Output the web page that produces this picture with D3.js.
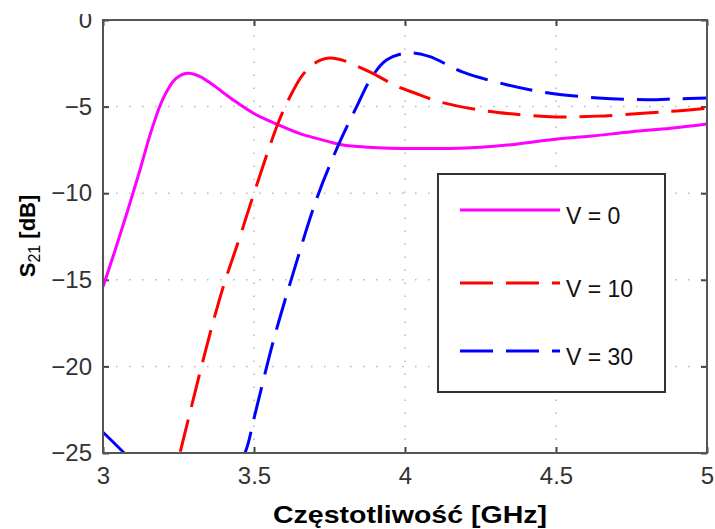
<!DOCTYPE html>
<html>
<head>
<meta charset="utf-8">
<script src="https://cdn.jsdelivr.net/npm/d3@7"></script>
<style>
  html, body { margin: 0; padding: 0; background: #fff; }
  svg { display: block; font-family: Arial, "Liberation Sans", sans-serif; }
</style>
</head>
<body>
<svg id="chart" width="715" height="529"></svg>
<script>
// ---- data ----
const freqV0 = [3.0, 3.04, 3.08, 3.12, 3.16, 3.20, 3.24, 3.28, 3.32, 3.36, 3.43, 3.50, 3.58, 3.65, 3.71, 3.79, 3.88, 3.95, 4.05, 4.15, 4.25, 4.35, 4.49, 4.62, 4.75, 4.88, 5.0];
const s21V0  = [-15.4, -13.3, -11.1, -8.8, -6.4, -4.5, -3.4, -3.07, -3.25, -3.7, -4.6, -5.4, -6.05, -6.55, -6.85, -7.2, -7.35, -7.4, -7.42, -7.42, -7.35, -7.2, -6.9, -6.7, -6.45, -6.25, -6.0];

const freqV10 = [3.22, 3.255, 3.35, 3.40, 3.45, 3.50, 3.58, 3.62, 3.66, 3.70, 3.75, 3.79, 3.82, 3.89, 3.97, 4.03, 4.12, 4.25, 4.36, 4.50, 4.64, 4.80, 4.90, 5.0];
const s21V10  = [-27.5, -25, -18.4, -15.3, -12.7, -10, -5.95, -4.4, -3.2, -2.5, -2.2, -2.3, -2.5, -3.05, -3.8, -4.2, -4.75, -5.2, -5.43, -5.6, -5.55, -5.37, -5.25, -5.1];

const freqV30 = [3.0, 3.07, 3.15, 3.28, 3.40, 3.47, 3.50, 3.563, 3.63, 3.71, 3.78, 3.84, 3.89, 3.94, 4.01, 4.08, 4.19, 4.34, 4.47, 4.64, 4.80, 4.90, 5.0];
const s21V30  = [-23.8, -25, -26.5, -28, -27, -25, -23.0, -18.6, -14.6, -10.2, -7.2, -5.0, -3.3, -2.3, -1.9, -2.1, -3.0, -3.75, -4.2, -4.5, -4.6, -4.55, -4.5];

const seriesNames  = ["V = 0", "V = 10", "V = 30"];
const seriesColors = ["#ff00ff", "#ff0000", "#0000ff"];
const xTicks = [3, 3.5, 4, 4.5, 5];
const yTicks = [0, -5, -10, -15, -20, -25];
const xLabel = "Częstotliwość [GHz]";

// ---- layout ----
const svg = d3.select("#chart");
const L = 103, R = 707, T = 20, B = 453;
const x = d3.scaleLinear().domain([3, 5]).range([L, R]);
const y = d3.scaleLinear().domain([-25, 0]).range([B, T]);

svg.append("defs").append("clipPath").attr("id", "plotclip")
  .append("rect").attr("x", L).attr("y", T).attr("width", R - L).attr("height", B - T);

// grid
const grid = svg.append("g").attr("stroke", "#b8b8b8").attr("stroke-width", 1.5)
  .attr("stroke-dasharray", "1.5,11.5");
xTicks.slice(1, -1).forEach(t => grid.append("line")
  .attr("x1", x(t)).attr("x2", x(t)).attr("y1", B).attr("y2", T));
yTicks.slice(1, -1).forEach(t => grid.append("line")
  .attr("x1", L).attr("x2", R).attr("y1", y(t)).attr("y2", y(t)));

// axes with inward ticks on all four sides
const fmt = d => String(d).replace("-", "\u2212");
const axB = d3.axisBottom(x).tickValues(xTicks).tickSize(-6).tickPadding(14).tickFormat(d => String(d));
const axT = d3.axisTop(x).tickValues(xTicks).tickSize(-6).tickFormat("");
const axL = d3.axisLeft(y).tickValues(yTicks).tickSize(-6).tickPadding(11).tickFormat(fmt);
const axR = d3.axisRight(y).tickValues(yTicks).tickSize(-6).tickFormat("");

function styleAxis(g) {
  g.select(".domain").remove();
  g.selectAll(".tick line").attr("stroke", "#444").attr("stroke-width", 2);
  g.selectAll("text").attr("fill", "#333").attr("font-size", 24)
    .attr("font-family", "Arial, 'Liberation Sans', sans-serif");
}
svg.append("g").attr("transform", `translate(0,${B})`).call(axB).call(styleAxis);
svg.append("g").attr("transform", `translate(0,${T})`).call(axT).call(styleAxis);
svg.append("g").attr("transform", `translate(${L},0)`).call(axL).call(styleAxis);
svg.append("g").attr("transform", `translate(${R},0)`).call(axR).call(styleAxis);

// curves
const datasets = [
  { f: freqV0, s: s21V0, dash: null },
  { f: freqV10, s: s21V10, dash: "33,13" },
  { f: freqV30, s: s21V30, dash: "33,13" }
];
const line = d3.line().x(d => x(d[0])).y(d => y(d[1])).curve(d3.curveCatmullRom.alpha(0.5));
const plot = svg.append("g").attr("clip-path", "url(#plotclip)");
datasets.forEach((ds, i) => {
  const pts = ds.f.map((f, j) => [f, ds.s[j]]);
  plot.append("path").datum(pts)
    .attr("d", line).attr("fill", "none")
    .attr("stroke", seriesColors[i]).attr("stroke-width", 3)
    .attr("stroke-dasharray", ds.dash);
});

// frame
svg.append("rect").attr("x", L).attr("y", T).attr("width", R - L).attr("height", B - T)
  .attr("fill", "none").attr("stroke", "#555").attr("stroke-width", 2);

// legend
const lg = svg.append("g");
lg.append("rect").attr("x", 438).attr("y", 174).attr("width", 227).attr("height", 218)
  .attr("fill", "#fff").attr("stroke", "#333").attr("stroke-width", 2);
const legY = [210, 283, 351];
datasets.forEach((ds, i) => {
  lg.append("line").attr("x1", 460).attr("x2", 560).attr("y1", legY[i]).attr("y2", legY[i])
    .attr("stroke", seriesColors[i]).attr("stroke-width", 3)
    .attr("stroke-dasharray", ds.dash);
  lg.append("text").attr("x", 566).attr("y", legY[i] + 14)
    .attr("font-size", 23).attr("fill", "#111").text(seriesNames[i]);
});

// axis labels
svg.append("text").attr("x", 410).attr("y", 523).attr("text-anchor", "middle")
  .attr("font-size", 24).attr("font-weight", "bold").attr("fill", "#000")
  .attr("textLength", 274).attr("lengthAdjust", "spacingAndGlyphs")
  .text(xLabel);

const yl = svg.append("text").attr("transform", "translate(35,236) rotate(-90)")
  .attr("text-anchor", "middle").attr("font-size", 22).attr("font-weight", "bold").attr("fill", "#000");
yl.append("tspan").text("S");
yl.append("tspan").attr("font-size", 16).attr("font-weight", "normal").attr("dy", 5).text("21");
yl.append("tspan").attr("dy", -5).text(" [dB]");

// top crop of original image (hides the top of the "0" label)
svg.append("rect").attr("x", 0).attr("y", 0).attr("width", 100).attr("height", 14).attr("fill", "#fff");
</script>
</body>
</html>
